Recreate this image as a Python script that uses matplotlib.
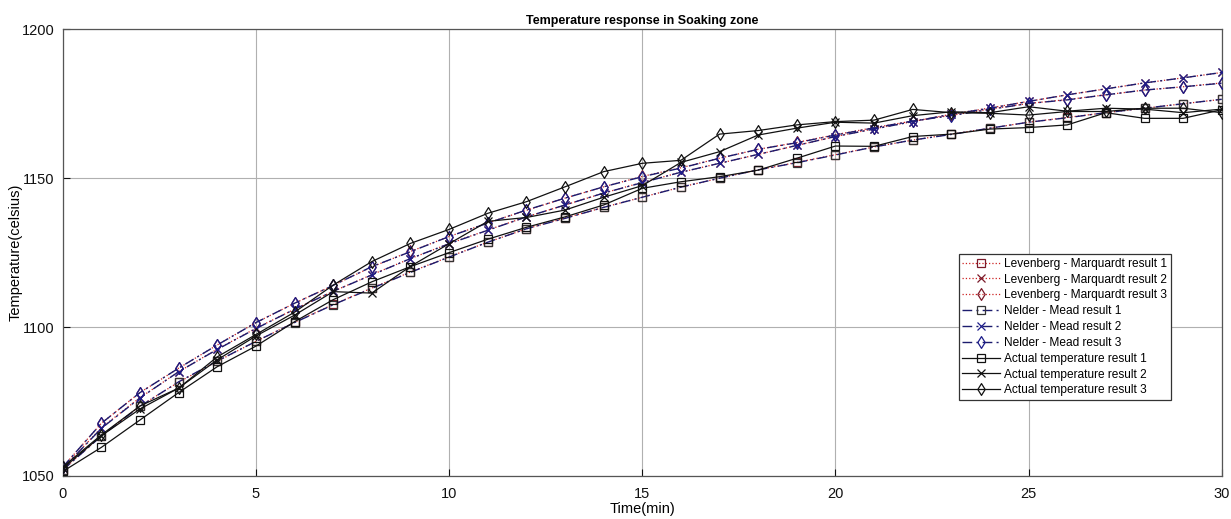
import matplotlib
matplotlib.use("Agg")
import matplotlib.pyplot as plt
from matplotlib.path import Path

plt.rcParams['font.family'] = ['Liberation Sans', 'DejaVu Sans']

time_min = list(range(31))

# Levenberg-Marquardt fits
lm_1 = [1052.0, 1063.5, 1073.5, 1081.5, 1088.5, 1095.2, 1101.6, 1107.6, 1113.1, 1118.5, 1123.6,
        1128.5, 1133.0, 1136.6, 1140.2, 1143.6, 1147.0, 1150.0, 1152.8, 1155.3, 1157.9,
        1160.5, 1162.8, 1164.8, 1166.8, 1168.8, 1170.4, 1172.0, 1173.5, 1175.0, 1176.5]
lm_2 = [1052.5, 1066.2, 1076.3, 1085.0, 1092.6, 1099.6, 1106.0, 1112.0, 1117.6, 1123.0, 1128.0,
        1132.6, 1137.0, 1141.0, 1145.0, 1148.6, 1152.0, 1155.0, 1158.0, 1161.0, 1164.0,
        1166.6, 1169.0, 1171.5, 1173.6, 1175.8, 1178.0, 1180.0, 1182.0, 1183.7, 1185.5]
lm_3 = [1053.0, 1067.7, 1078.0, 1086.2, 1094.0, 1101.5, 1108.0, 1114.0, 1120.2, 1125.4, 1130.4,
        1135.0, 1139.2, 1143.3, 1147.1, 1150.6, 1153.5, 1156.7, 1159.7, 1162.0, 1164.6,
        1167.0, 1169.2, 1171.1, 1173.2, 1175.1, 1176.4, 1178.0, 1179.6, 1180.7, 1182.0]

# Nelder-Mead fits
nm_1 = [1052.0, 1063.4, 1073.4, 1081.6, 1088.6, 1095.2, 1101.5, 1107.5, 1113.0, 1118.4, 1123.5,
        1128.5, 1133.0, 1136.5, 1140.2, 1143.6, 1147.0, 1150.0, 1152.8, 1155.2, 1157.8,
        1160.5, 1162.8, 1164.7, 1166.8, 1168.8, 1170.3, 1172.0, 1173.5, 1175.0, 1176.5]
nm_2 = [1052.5, 1066.0, 1076.2, 1085.0, 1092.5, 1099.5, 1106.0, 1112.0, 1117.5, 1123.0, 1128.0,
        1132.5, 1137.0, 1141.0, 1145.0, 1148.5, 1152.0, 1155.0, 1158.0, 1161.0, 1164.0,
        1166.5, 1169.0, 1171.5, 1173.5, 1175.8, 1178.0, 1180.0, 1182.0, 1183.7, 1185.5]
nm_3 = [1053.0, 1067.7, 1078.0, 1086.2, 1094.0, 1101.5, 1108.0, 1114.0, 1120.3, 1125.3, 1130.4,
        1134.9, 1139.3, 1143.3, 1147.1, 1150.5, 1153.4, 1156.7, 1159.7, 1161.9, 1164.5,
        1166.9, 1169.2, 1171.0, 1173.1, 1175.1, 1176.3, 1178.0, 1179.6, 1180.7, 1181.9]

# Measured temperatures
actual_1 = [1051.5, 1059.6, 1068.8, 1078.0, 1086.7, 1093.6, 1101.8, 1109.2, 1115.2, 1120.3, 1125.0,
            1129.5, 1133.5, 1137.0, 1141.0, 1146.6, 1148.8, 1150.5, 1152.7, 1156.7, 1160.8,
            1160.7, 1164.0, 1164.8, 1166.5, 1167.0, 1167.9, 1172.0, 1170.1, 1170.1, 1173.0]
actual_2 = [1052.5, 1063.5, 1072.5, 1079.5, 1089.0, 1097.0, 1104.0, 1111.9, 1111.4, 1120.4, 1128.0,
            1135.5, 1136.8, 1139.3, 1143.6, 1147.5, 1155.3, 1158.9, 1164.5, 1166.8, 1168.8,
            1168.5, 1171.0, 1172.3, 1172.0, 1174.0, 1172.5, 1173.5, 1173.2, 1172.0, 1173.2]
actual_3 = [1053.0, 1063.8, 1073.5, 1079.5, 1090.0, 1097.5, 1105.0, 1114.1, 1122.0, 1128.1, 1132.8,
            1138.2, 1142.1, 1147.1, 1152.2, 1155.0, 1156.0, 1164.8, 1166.0, 1167.9, 1169.0,
            1169.5, 1173.1, 1172.0, 1171.8, 1171.2, 1172.4, 1172.4, 1173.5, 1173.5, 1172.0]

lm_labels = ["Levenberg - Marquardt result 1", "Levenberg - Marquardt result 2",
             "Levenberg - Marquardt result 3"]
nm_labels = ["Nelder - Mead result 1", "Nelder - Mead result 2", "Nelder - Mead result 3"]
act_labels = ["Actual temperature result 1", "Actual temperature result 2",
              "Actual temperature result 3"]

# tall, narrow diamond like MATLAB's 'd' marker
diamond = Path([(0, 1), (0.62, 0), (0, -1), (-0.62, 0), (0, 1)],
               [Path.MOVETO, Path.LINETO, Path.LINETO, Path.LINETO, Path.CLOSEPOLY])

markers = ['s', 'x', diamond]
msizes = [5.2, 5.5, 8.5]

fig = plt.figure(figsize=(12.31, 5.19), dpi=100)
ax = fig.add_axes([0.051, 0.083, 0.9415, 0.8605])

lm_color = '#cc2222'
lm_mark = '#7a1a2a'
nm_color = '#1c1c6e'
nm_marks = ['#333333', '#1c1c8a', '#1c1c8a']

for ys, lab, m, ms in zip([lm_1, lm_2, lm_3], lm_labels, markers, msizes):
    ax.plot(time_min, ys, linestyle=':', color=lm_color, linewidth=0.9,
            marker=m, markersize=ms, markerfacecolor='none',
            markeredgecolor=lm_mark, markeredgewidth=0.9, label=lab, zorder=2)

for ys, lab, m, ms, mc in zip([nm_1, nm_2, nm_3], nm_labels, markers, msizes, nm_marks):
    ax.plot(time_min, ys, linestyle='-.', color=nm_color, linewidth=1.0,
            dashes=(7, 3, 1.5, 3),
            marker=m, markersize=ms, markerfacecolor='none',
            markeredgecolor=mc, markeredgewidth=0.9, label=lab, zorder=3)

for ys, lab, m, ms in zip([actual_1, actual_2, actual_3], act_labels, markers, msizes):
    ax.plot(time_min, ys, linestyle='-', color='#111111', linewidth=0.9,
            marker=m, markersize=ms, markerfacecolor='none',
            markeredgecolor='#111111', markeredgewidth=0.9, label=lab, zorder=4)

ax.set_xlim(0, 30)
ax.set_ylim(1050, 1200)
ax.set_xticks(range(0, 31, 5))
ax.set_yticks(range(1050, 1201, 50))
ax.tick_params(direction='in', length=5, labelsize=10.5, colors='#111111')
ax.tick_params(axis='x', pad=8)
ax.tick_params(axis='y', pad=6)
ax.grid(True, color='#b0b0b0', linewidth=0.8)
ax.set_axisbelow(True)
for sp in ax.spines.values():
    sp.set_color('#555555')
    sp.set_linewidth(0.9)

ax.set_title("Temperature response in Soaking zone", fontsize=9, fontweight='bold', pad=4)
ax.set_xlabel("Time(min)", fontsize=10.5, labelpad=1)
ax.set_ylabel("Temperature(celsius)", fontsize=10.5, labelpad=-1)

leg = ax.legend(loc='lower left', bbox_to_anchor=(0.773, 0.17), fontsize=8.6,
                frameon=True, fancybox=False, edgecolor='#333333', framealpha=1,
                handlelength=3.2, handletextpad=0.3, labelspacing=0.32,
                borderpad=0.3, borderaxespad=0)
leg.get_frame().set_linewidth(0.9)

fig.savefig("out.png", dpi=100)
